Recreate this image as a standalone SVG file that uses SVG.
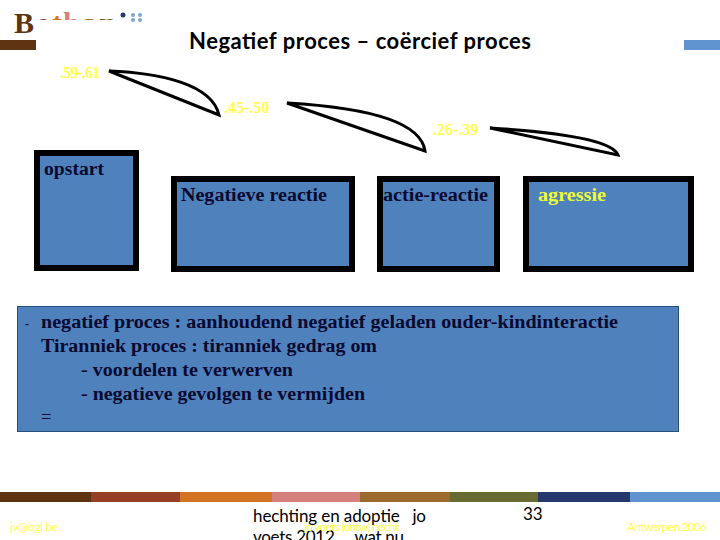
<svg xmlns="http://www.w3.org/2000/svg" width="720" height="540" viewBox="0 0 720 540">
<defs><clipPath id="lc"><rect x="34" y="0" width="100" height="20"/></clipPath></defs>
<style>
.s{font-family:"Liberation Serif",serif;font-weight:bold}
.c{font-family:Lato,"Open Sans",sans-serif}
.y{fill:#ffff4d}
.n{fill:#4f81bd;stroke:#000;stroke-width:6}
.a{fill:none;stroke:#000;stroke-width:3}
.b{font-size:18.500px;fill:#0a0a30}
</style>
<rect width="720" height="540" fill="#fff"/>
<g id="logo">
<text x="14" y="33" class="s" font-size="30" fill="#5f3413">B</text>
<g clip-path="url(#lc)" class="s" font-size="30">
<text x="36" y="33" fill="#973f25">e</text>
<text x="52" y="33" fill="#d27424">t</text>
<text x="63" y="33" fill="#d4807c">h</text>
<text x="82" y="33" fill="#9b6a2e">a</text>
<text x="99" y="33" fill="#676b32">n</text>
</g>
<circle cx="123" cy="15" r="2.500" fill="#25376b"/>
<circle cx="133" cy="15" r="2" fill="#7ba7d4"/><circle cx="140" cy="15" r="2" fill="#7ba7d4"/>
<circle cx="133" cy="20" r="2" fill="#7ba7d4"/><circle cx="140" cy="20" r="2" fill="#7ba7d4"/>
<rect y="40" width="36" height="10" fill="#5f3413"/>
<rect x="684" y="40" width="36" height="10" fill="#5f94d0"/>
</g>
<text x="189" y="49" class="c" font-weight="700" font-size="22" fill="#000" textLength="342">Negatief proces – coërcief proces</text>
<g id="connectors">
<path class="a" d="M109 71 C160 73 212 84 219 115 Z"/>
<path class="a" d="M287 103 C340 106 420 115 425 151 Z"/>
<path class="a" d="M490 128 C540 131 612 138 618 155 Z"/>
</g>
<g id="labels" class="s" font-size="16">
<text x="60" y="78" class="y" textLength="40">.59-.61</text>
<text x="224" y="113" class="y">.45-.50</text>
<text x="433" y="135" class="y">.26-.39</text>
</g>
<g id="n1"><rect class="n" x="37" y="153" width="99" height="115"/><text x="44" y="175" class="s b" textLength="60" lengthAdjust="spacingAndGlyphs">opstart</text></g>
<g id="n2"><rect class="n" x="174" y="179" width="178" height="90"/><text x="181" y="201" class="s b" textLength="146" lengthAdjust="spacingAndGlyphs">Negatieve reactie</text></g>
<g id="n3"><rect class="n" x="380" y="179" width="117" height="90"/><text x="383" y="201" class="s b" textLength="105" lengthAdjust="spacingAndGlyphs">actie-reactie</text></g>
<g id="n4"><rect class="n" x="526" y="179" width="165" height="90"/><text x="538" y="201" class="s b" style="fill:#f0ff33" textLength="68" lengthAdjust="spacingAndGlyphs">agressie</text></g>
<g id="box">
<rect x="17.500" y="306.500" width="661" height="125" fill="#4f81bd" stroke="#254f7f"/>
<g class="s b">
<text x="25" y="328" font-size="12">-</text>
<text x="41" y="328" textLength="577" lengthAdjust="spacingAndGlyphs">negatief proces : aanhoudend negatief geladen ouder-kindinteractie</text>
<text x="41" y="352" textLength="336" lengthAdjust="spacingAndGlyphs">Tiranniek proces : tiranniek gedrag om</text>
<text x="81" y="376" textLength="212" lengthAdjust="spacingAndGlyphs">- voordelen te verwerven</text>
<text x="81" y="400" textLength="284" lengthAdjust="spacingAndGlyphs">- negatieve gevolgen te vermijden</text>
<text x="41" y="423" font-weight="normal">=</text>
</g>
</g>
<g id="footer">
<rect x="0" y="492" width="91" height="10" fill="#5f3413"/>
<rect x="91" y="492" width="89" height="10" fill="#973f25"/>
<rect x="180" y="492" width="92" height="10" fill="#d27424"/>
<rect x="272" y="492" width="88" height="10" fill="#d4807c"/>
<rect x="360" y="492" width="90" height="10" fill="#9b6a2e"/>
<rect x="450" y="492" width="88" height="10" fill="#676b32"/>
<rect x="538" y="492" width="92" height="10" fill="#25376b"/>
<rect x="630" y="492" width="90" height="10" fill="#5f94d0"/>
<text x="253" y="522" class="c" font-size="17" fill="#000" xml:space="preserve" textLength="173">hechting en adoptie   jo</text>
<text x="253" y="543" class="c" font-size="17" fill="#000" xml:space="preserve" textLength="151">voets 2012     wat nu</text>
<text x="304" y="531" class="c y" font-size="12" textLength="95">jo voets (ontw) necht</text>
<text x="10" y="531" class="c y" font-size="12" textLength="48">jv@ogl.be</text>
<text x="627" y="531" class="c y" font-size="12" textLength="80">Antwerpen 2006</text>
<text x="523" y="520" class="c" font-size="17" fill="#000">33</text>
</g>
</svg>
